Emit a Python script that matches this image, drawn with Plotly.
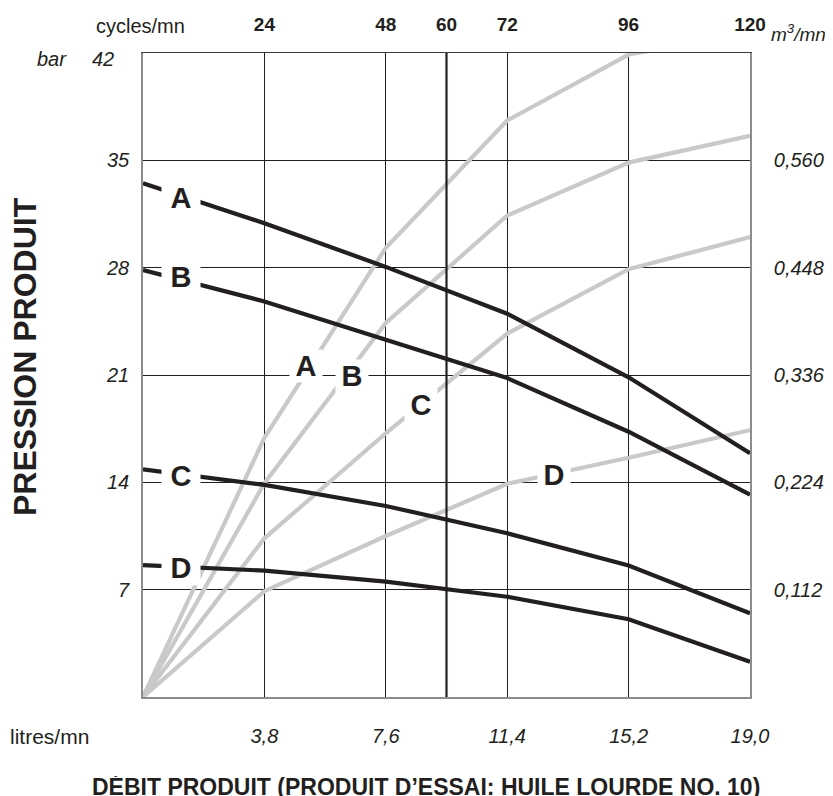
import plotly.graph_objects as go

# ---------------- data ----------------
cycles = [0, 24, 48, 72, 96, 120]            # cycles/mn (x positions of readings)

# pressure curves (black), bar
press_A = [33.5, 30.9, 28.05, 25.0, 20.85, 15.9]
press_B = [27.85, 25.8, 23.3, 20.8, 17.3, 13.2]
press_C = [14.85, 13.83, 12.46, 10.68, 8.57, 5.46]
press_D = [8.6, 8.24, 7.52, 6.54, 5.07, 2.3]

# flow curves (grey), read on the bar scale
flow_A = [0, 16.9, 29.3, 37.6, 41.9, 43.3]
flow_B = [0, 13.94, 24.4, 31.4, 34.85, 36.6]
flow_C = [0, 10.35, 17.2, 23.7, 27.9, 30.0]
flow_D = [0, 6.9, 10.5, 13.9, 15.6, 17.4]

ref_cycles = 60                              # reference vertical line
y_range = [0, 42]
x_range = [0, 120]

top_ticks = [24, 48, 60, 72, 96, 120]
top_labels = ["24", "48", "60", "72", "96", "120"]
bottom_ticks = [24, 48, 72, 96, 120]
bottom_labels = ["3,8", "7,6", "11,4", "15,2", "19,0"]
left_ticks = [7, 14, 21, 28, 35]
left_labels = ["7", "14", "21", "28", "35"]
right_labels = ["0,112", "0,224", "0,336", "0,448", "0,560"]

series_names = ["A", "B", "C", "D"]
black_label_pos = [(7.6, 32.55), (7.6, 27.42), (7.6, 14.43), (7.6, 8.41)]
grey_label_pos = [(32.26, 21.6), (41.4, 20.93), (55.05, 19.05), (81.3, 14.51)]

# ---------------- styling ----------------
FONT = "Liberation Sans, Arial, Helvetica, sans-serif"
INK = "#231f20"
GREY = "#c9c9c9"
FRAME = "#8c8c8c"

OFF = 8                      # page body margin
W, H = 833 - OFF, 796 - OFF
ML, MT = 143 - OFF, 53 - OFF
PW, PH = 607, 644
MR, MB = W - ML - PW, H - MT - PH


def px(x):
    """page pixel x -> paper coordinate"""
    return (x - OFF - ML) / PW


def py(y):
    """page pixel y -> paper coordinate"""
    return (MT + PH - (y - OFF)) / PH


fig = go.Figure()

for ys in (flow_A, flow_B, flow_C, flow_D):
    fig.add_trace(go.Scatter(x=cycles, y=ys, mode="lines",
                             line=dict(color=GREY, width=4.2),
                             hoverinfo="skip", showlegend=False))

for ys in (press_A, press_B, press_C, press_D):
    fig.add_trace(go.Scatter(x=cycles, y=ys, mode="lines",
                             line=dict(color=INK, width=4.2),
                             hoverinfo="skip", showlegend=False))

fig.add_trace(go.Scatter(x=[ref_cycles, ref_cycles], y=y_range, mode="lines",
                         line=dict(color=INK, width=2.2),
                         xaxis="x2", yaxis="y2",
                         hoverinfo="skip", showlegend=False))

tick_font = dict(family=FONT, size=20, color=INK, style="italic")

fig.update_layout(
    width=W, height=H,
    margin=dict(l=ML, r=MR, t=MT, b=MB, pad=0, autoexpand=False),
    paper_bgcolor="white", plot_bgcolor="white",
    showlegend=False,
    font=dict(family=FONT, color=INK),
    xaxis=dict(range=x_range, tickmode="array", tickvals=bottom_ticks,
               ticktext=bottom_labels, tickfont=tick_font, ticks="",
               ticklabelstandoff=20, automargin=False,
               showgrid=True, gridcolor=INK, gridwidth=1,
               showline=True, linecolor=FRAME, linewidth=1.6,
               zeroline=False, fixedrange=True),
    xaxis2=dict(range=x_range, overlaying="x", side="top", anchor="y2",
                tickmode="array", tickvals=top_ticks, ticktext=top_labels,
                tickfont=dict(family=FONT, size=19, color=INK, weight="bold"),
                ticks="", ticklabelstandoff=13, automargin=False,
                showgrid=False, showline=True, linecolor="#3c3c3c", linewidth=1.2,
                zeroline=False, fixedrange=True),
    yaxis=dict(range=y_range, tickmode="array", tickvals=left_ticks,
               ticktext=left_labels, tickfont=tick_font, ticks="",
               ticklabelstandoff=8, automargin=False,
               showgrid=True, gridcolor=INK, gridwidth=1,
               showline=True, linecolor=FRAME, linewidth=1.6,
               zeroline=False, fixedrange=True),
    yaxis2=dict(range=y_range, overlaying="y", side="right", anchor="x2",
                tickmode="array", tickvals=left_ticks, ticktext=right_labels,
                tickfont=tick_font, ticks="", ticklabelstandoff=18, automargin=False,
                showgrid=False, showline=True, linecolor=FRAME, linewidth=1.6,
                zeroline=False, fixedrange=True),
)

ann = []
# curve labels
for name, (x, y) in zip(series_names, black_label_pos):
    ann.append(dict(x=x, y=y, xref="x", yref="y", text=name, showarrow=False,
                    font=dict(family=FONT, size=29, color=INK, weight="bold"),
                    bgcolor="white", width=38, height=34, borderpad=0,
                    xanchor="center", yanchor="middle"))
for name, (x, y) in zip(series_names, grey_label_pos):
    ann.append(dict(x=x, y=y, xref="x", yref="y", text=name, showarrow=False,
                    font=dict(family=FONT, size=29, color=INK, weight="bold"),
                    bgcolor="white", width=32, height=32, borderpad=0,
                    xanchor="center", yanchor="middle"))

# axis captions (positions given in page pixels)
ann += [
    dict(x=px(140), y=py(26), text="cycles/mn", xanchor="center", yanchor="middle",
         font=dict(family=FONT, size=20, color=INK)),
    dict(x=px(769), y=py(33), text="m<sup>3</sup>/mn", xanchor="left", yanchor="middle",
         font=dict(family=FONT, size=19, color=INK, style="italic")),
    dict(x=px(52), y=py(59), text="bar", xanchor="center", yanchor="middle",
         font=dict(family=FONT, size=20, color=INK, style="italic")),
    dict(x=px(116), y=py(59), text="42", xanchor="right", yanchor="middle",
         font=dict(family=FONT, size=20, color=INK, style="italic")),
    dict(x=px(8), y=py(736), text="litres/mn", xanchor="left", yanchor="middle",
         font=dict(family=FONT, size=21, color=INK)),
    dict(x=px(25), y=py(357), text="PRESSION PRODUIT", textangle=-90,
         xanchor="center", yanchor="middle",
         font=dict(family=FONT, size=32, color=INK, weight="bold")),
    dict(x=px(426), y=py(786), text="DÉBIT PRODUIT (PRODUIT D’ESSAI: HUILE LOURDE NO. 10)",
         xanchor="center", yanchor="middle", height=20, valign="middle",
         font=dict(family=FONT, size=23, color=INK, weight="bold")),
]
for a in ann[8:]:
    a.update(xref="paper", yref="paper", showarrow=False)

fig.update_layout(annotations=ann)

fig.write_html("out.html")
